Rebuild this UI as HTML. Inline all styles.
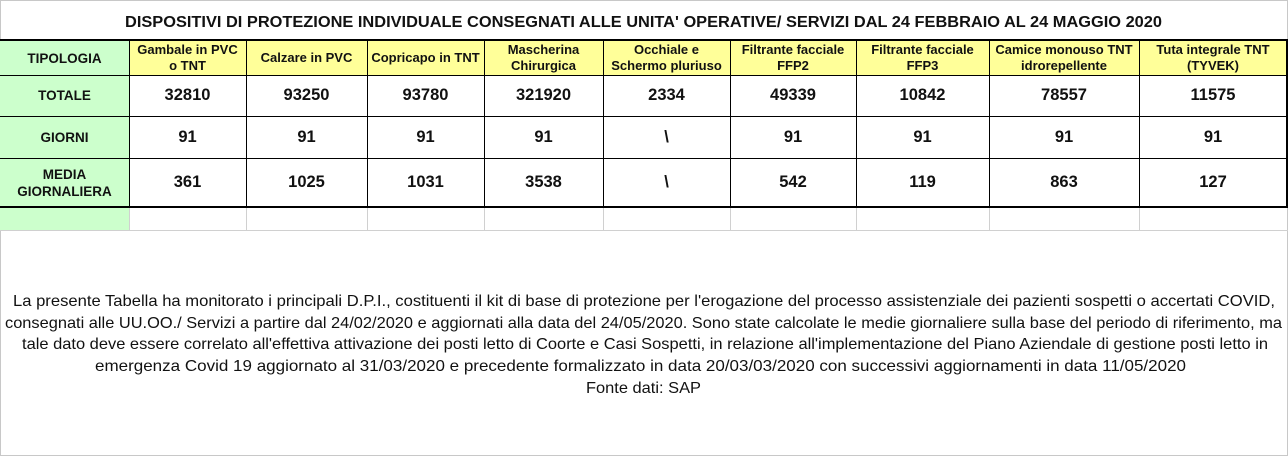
<!DOCTYPE html>
<html><head><meta charset="utf-8"><style>
html,body{margin:0;padding:0;background:#fff;}
body{width:1288px;height:456px;position:relative;overflow:hidden;font-family:"Liberation Sans",Arial,sans-serif;}
.frame{position:absolute;left:0;top:0;width:1286px;height:454px;border:1px solid #c8c8c8;}
.c{position:absolute;display:flex;align-items:center;justify-content:center;text-align:center;box-sizing:border-box;font-weight:bold;color:#111;}
.h{font-size:13px;line-height:16px;background:#ffff99;}
.g{background:#ccffcc;font-size:13.5px;line-height:17px;}
.n{font-size:16.5px;}
.vl{position:absolute;width:1px;background:#000;}
.hl{position:absolute;height:1px;background:#000;}
</style></head><body>
<div class="frame"></div>

<div class="c g" style="left:0;top:41px;width:129px;height:34px;">TIPOLOGIA</div>
<div class="c h" style="left:129px;top:41px;width:117px;height:34px;">Gambale in PVC<br>o TNT</div>
<div class="c h" style="left:246px;top:41px;width:121px;height:34px;">Calzare in PVC</div>
<div class="c h" style="left:367px;top:41px;width:117px;height:34px;">Copricapo in TNT</div>
<div class="c h" style="left:484px;top:41px;width:119px;height:34px;">Mascherina<br>Chirurgica</div>
<div class="c h" style="left:603px;top:41px;width:127px;height:34px;">Occhiale e<br>Schermo pluriuso</div>
<div class="c h" style="left:730px;top:41px;width:126px;height:34px;">Filtrante facciale<br>FFP2</div>
<div class="c h" style="left:856px;top:41px;width:133px;height:34px;">Filtrante facciale<br>FFP3</div>
<div class="c h" style="left:989px;top:41px;width:150px;height:34px;">Camice monouso TNT<br>idrorepellente</div>
<div class="c h" style="left:1139px;top:41px;width:148px;height:34px;">Tuta integrale TNT<br>(TYVEK)</div>

<div class="c g" style="left:0;top:75px;width:129px;height:41px;">TOTALE</div>
<div class="c g" style="left:0;top:116px;width:129px;height:42px;">GIORNI</div>
<div class="c g" style="left:0;top:158px;width:129px;height:49px;">MEDIA<br>GIORNALIERA</div>
<div class="c g" style="left:0;top:207px;width:129px;height:23px;"></div>

<div class="c n" style="left:129px;top:75px;width:117px;height:41px;">32810</div>
<div class="c n" style="left:246px;top:75px;width:121px;height:41px;">93250</div>
<div class="c n" style="left:367px;top:75px;width:117px;height:41px;">93780</div>
<div class="c n" style="left:484px;top:75px;width:119px;height:41px;">321920</div>
<div class="c n" style="left:603px;top:75px;width:127px;height:41px;">2334</div>
<div class="c n" style="left:730px;top:75px;width:126px;height:41px;">49339</div>
<div class="c n" style="left:856px;top:75px;width:133px;height:41px;">10842</div>
<div class="c n" style="left:989px;top:75px;width:150px;height:41px;">78557</div>
<div class="c n" style="left:1139px;top:75px;width:148px;height:41px;">11575</div>

<div class="c n" style="left:129px;top:116px;width:117px;height:42px;">91</div>
<div class="c n" style="left:246px;top:116px;width:121px;height:42px;">91</div>
<div class="c n" style="left:367px;top:116px;width:117px;height:42px;">91</div>
<div class="c n" style="left:484px;top:116px;width:119px;height:42px;">91</div>
<div class="c n" style="left:603px;top:116px;width:127px;height:42px;">\</div>
<div class="c n" style="left:730px;top:116px;width:126px;height:42px;">91</div>
<div class="c n" style="left:856px;top:116px;width:133px;height:42px;">91</div>
<div class="c n" style="left:989px;top:116px;width:150px;height:42px;">91</div>
<div class="c n" style="left:1139px;top:116px;width:148px;height:42px;">91</div>

<div class="c n" style="left:129px;top:158px;width:117px;height:49px;">361</div>
<div class="c n" style="left:246px;top:158px;width:121px;height:49px;">1025</div>
<div class="c n" style="left:367px;top:158px;width:117px;height:49px;">1031</div>
<div class="c n" style="left:484px;top:158px;width:119px;height:49px;">3538</div>
<div class="c n" style="left:603px;top:158px;width:127px;height:49px;">\</div>
<div class="c n" style="left:730px;top:158px;width:126px;height:49px;">542</div>
<div class="c n" style="left:856px;top:158px;width:133px;height:49px;">119</div>
<div class="c n" style="left:989px;top:158px;width:150px;height:49px;">863</div>
<div class="c n" style="left:1139px;top:158px;width:148px;height:49px;">127</div>

<div class="hl" style="left:0;top:39px;width:1288px;height:2px;"></div>
<div class="hl" style="left:0;top:75px;width:1288px;"></div>
<div class="hl" style="left:0;top:116px;width:1288px;"></div>
<div class="hl" style="left:0;top:158px;width:1288px;"></div>
<div class="hl" style="left:0;top:206px;width:1288px;height:2px;"></div>
<div class="hl" style="left:0;top:230px;width:1288px;background:#d0d0d0;"></div>
<div class="vl" style="left:129px;top:41px;height:166px;"></div>
<div class="vl" style="left:246px;top:41px;height:166px;"></div>
<div class="vl" style="left:367px;top:41px;height:166px;"></div>
<div class="vl" style="left:484px;top:41px;height:166px;"></div>
<div class="vl" style="left:603px;top:41px;height:166px;"></div>
<div class="vl" style="left:730px;top:41px;height:166px;"></div>
<div class="vl" style="left:856px;top:41px;height:166px;"></div>
<div class="vl" style="left:989px;top:41px;height:166px;"></div>
<div class="vl" style="left:1139px;top:41px;height:166px;"></div>
<div class="vl" style="left:1286px;top:39px;height:169px;width:2px;"></div>
<div class="vl" style="left:129px;top:208px;height:22px;background:#d0d0d0;"></div>
<div class="vl" style="left:246px;top:208px;height:22px;background:#d0d0d0;"></div>
<div class="vl" style="left:367px;top:208px;height:22px;background:#d0d0d0;"></div>
<div class="vl" style="left:484px;top:208px;height:22px;background:#d0d0d0;"></div>
<div class="vl" style="left:603px;top:208px;height:22px;background:#d0d0d0;"></div>
<div class="vl" style="left:730px;top:208px;height:22px;background:#d0d0d0;"></div>
<div class="vl" style="left:856px;top:208px;height:22px;background:#d0d0d0;"></div>
<div class="vl" style="left:989px;top:208px;height:22px;background:#d0d0d0;"></div>
<div class="vl" style="left:1139px;top:208px;height:22px;background:#d0d0d0;"></div>

<svg style="position:absolute;left:0;top:0" width="1288" height="456" font-family="Liberation Sans, Arial, sans-serif" font-size="16" fill="#111">
<text x="125" y="27" font-weight="bold" font-size="16" textLength="1037" lengthAdjust="spacingAndGlyphs">DISPOSITIVI DI PROTEZIONE INDIVIDUALE CONSEGNATI ALLE UNITA' OPERATIVE/ SERVIZI DAL 24 FEBBRAIO AL 24 MAGGIO 2020</text>
<text x="13" y="306" textLength="1262" lengthAdjust="spacingAndGlyphs">La presente Tabella ha monitorato i principali D.P.I., costituenti il kit di base di protezione per l'erogazione del processo assistenziale dei pazienti sospetti o accertati COVID,</text>
<text x="5" y="328" textLength="1277" lengthAdjust="spacingAndGlyphs">consegnati alle UU.OO./ Servizi a partire dal 24/02/2020 e aggiornati alla data del 24/05/2020. Sono state calcolate le medie giornaliere sulla base del periodo di riferimento, ma</text>
<text x="22" y="349" textLength="1246" lengthAdjust="spacingAndGlyphs">tale dato deve essere correlato all'effettiva attivazione dei posti letto di Coorte e Casi Sospetti, in relazione all'implementazione del Piano Aziendale di gestione posti letto in</text>
<text x="95" y="371" textLength="1091" lengthAdjust="spacingAndGlyphs">emergenza Covid 19 aggiornato al 31/03/2020 e precedente formalizzato in data 20/03/03/2020 con successivi aggiornamenti in data 11/05/2020</text>
<text x="586" y="393" textLength="115" lengthAdjust="spacingAndGlyphs">Fonte dati: SAP</text>
</svg>
</body></html>
